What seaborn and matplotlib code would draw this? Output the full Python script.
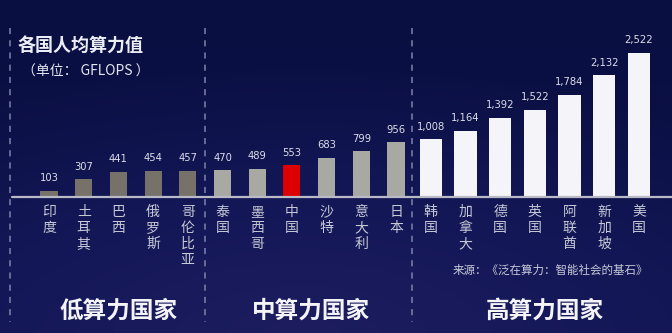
import numpy as np
import pandas as pd
import matplotlib
matplotlib.use('Agg')
import matplotlib.pyplot as plt
import seaborn as sns
from matplotlib.colors import LinearSegmentedColormap

# ---- data ----
countries = ['印度', '土耳其', '巴西', '俄罗斯', '哥伦比亚',
             '泰国', '墨西哥', '中国', '沙特', '意大利', '日本',
             '韩国', '加拿大', '德国', '英国', '阿联酋', '新加坡', '美国']
values = [103, 307, 441, 454, 457,
          470, 489, 553, 683, 799, 956,
          1008, 1164, 1392, 1522, 1784, 2132, 2522]
kinds = ['low'] * 5 + ['mid', 'mid', 'cn', 'mid', 'mid', 'mid'] + ['high'] * 7
group_titles = ['低算力国家', '中算力国家', '高算力国家']
title = '各国人均算力值'
subtitle = '（单位： GFLOPS ）'
source = '来源：《泛在算力：智能社会的基石》'

df = pd.DataFrame({'country': countries, 'value': values, 'kind': kinds})

sns.set_theme(style='white')
plt.rcParams['font.family'] = ['Noto Sans CJK SC', 'DejaVu Sans']

W, H = 672, 333
fig = plt.figure(figsize=(W / 100, H / 100), dpi=100)

# background gradient
bg = fig.add_axes([0, 0, 1, 1], zorder=0)
yy, xx = np.mgrid[0:1:200j, 0:1:400j]
r = np.sqrt(((xx - 0.45) / 0.9) ** 2 + ((yy - 1.0) / 0.8) ** 2)
grad = np.clip(1 - r, 0, 1) * 0.8 + yy * 0.2
cmap = LinearSegmentedColormap.from_list('bg', ['#0a0f42', '#131756', '#1d1d60'])
bg.imshow(grad, cmap=cmap, aspect='auto', extent=[0, 1, 0, 1], origin='upper', vmin=0, vmax=1)
bg.set_axis_off()

ax = fig.add_axes([0, 0, 1, 1], zorder=1)
ax.patch.set_alpha(0)

palette = {'low': '#76726a', 'mid': '#a9a9a4', 'cn': '#de0000', 'high': '#f4f4f9'}
narrow = df[df['kind'] != 'high']
wide = df[df['kind'] == 'high']
sns.barplot(data=narrow, x='country', y='value', hue='kind', order=countries,
            palette=palette, width=0.49, dodge=False, legend=False,
            saturation=1, ax=ax, zorder=3, linewidth=0, edgecolor='none')
sns.barplot(data=wide, x='country', y='value', hue='kind', order=countries,
            palette=palette, width=0.64, dodge=False, legend=False,
            saturation=1, ax=ax, zorder=3, linewidth=0, edgecolor='none')

x0, step = 49.0, 34.7
ax.set_xlim(-x0 / step, (W - x0) / step)
base_px, upp = 197.0, 17.51
ax.set_ylim(-(H - base_px) * upp, base_px * upp)
ax.set_axis_off()

tr = ax.get_xaxis_transform()
def fy(p):
    return 1 - p / H

# baseline
ax.plot([-(x0 - 12) / step, (W - x0) / step], [0, 0], color='#b9bac6', lw=1.6, zorder=4)

# dashed separators
for px in [10, 205, 412]:
    xd = (px - x0) / step
    ax.plot([xd, xd], [fy(28), fy(322)], transform=tr, color='#7d84aa',
            lw=1.1, ls=(0, (4, 4)), zorder=2)

# value labels
for i, v in enumerate(values):
    ax.annotate(f'{v:,}', (i, v), xytext=(0, 5.5), textcoords='offset points',
                ha='center', va='bottom', fontsize=7.2, color='#dcdde8',
                family=['DejaVu Sans'], zorder=5)

# country labels (vertical)
for i, name in enumerate(countries):
    for j, ch in enumerate(name):
        ax.text(i, fy(212 + 16 * j), ch, transform=tr, ha='center', va='center',
                fontsize=10, color='#c6c8d6', zorder=5)

# titles
fig.text(18 / W, fy(46), title, ha='left', va='center', fontsize=13,
         fontweight='bold', color='#eceef6')
fig.text(22 / W, fy(72), subtitle, ha='left', va='center', fontsize=10,
         color='#e4e6f0')

# group titles
for cx, t in zip([119, 311, 545], group_titles):
    fig.text(cx / W, fy(311), t, ha='center', va='center', fontsize=17,
             fontweight='bold', color='#f4f4f8')

# source
fig.text(648 / W, fy(270), source, ha='right', va='center', fontsize=8.3,
         color='#c8cad8', style='italic')

fig.savefig('out.png', dpi=100, facecolor='#0d1246')
